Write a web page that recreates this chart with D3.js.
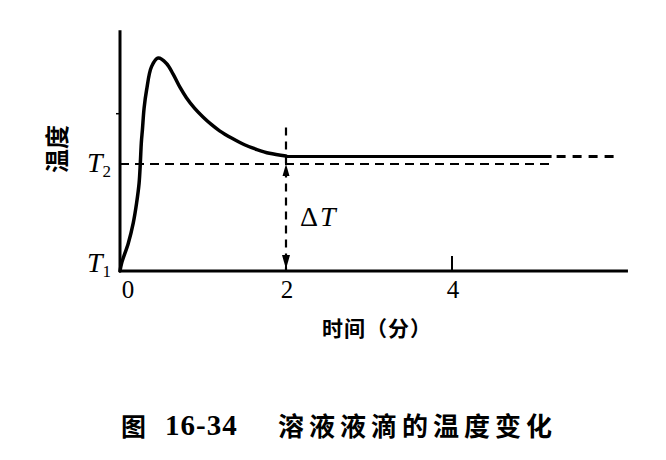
<!DOCTYPE html>
<html><head><meta charset="utf-8">
<script src="https://cdn.jsdelivr.net/npm/d3@7"></script>
<style>
html,body{margin:0;padding:0;background:#fff;}
svg{display:block;}
</style></head>
<body>
<script>
// ---- data ----
const curveT = [0, 0.02, 0.10, 0.16, 0.20, 0.23, 0.245, 0.257, 0.27, 0.29, 0.32, 0.38, 0.46, 0.56, 0.64, 0.72, 0.80, 0.90, 1.0, 1.1, 1.2, 1.35, 1.5, 1.65, 1.8, 2.0];
const curveV = [0, 0.075, 0.26, 0.45, 0.635, 0.82, 1.01, 1.20, 1.32, 1.52, 1.69, 1.91, 1.99, 1.94, 1.84, 1.72, 1.62, 1.52, 1.44, 1.37, 1.31, 1.24, 1.18, 1.135, 1.10, 1.075];
const plateauT = [2.0, 5.2];
const plateauV = 1.07;
const plateauDashT = [5.2, 6.0];
const T2 = 1.0, T1 = 0;
const xTicks = [0, 2, 4];
const xTickLabels = ["0", "2", "4"];
const yTickMark = [1.47];
const eqTime = 2;
const vertTop = 1.34;
const xLabel = "时间（分）";
const yLabel = "温度";
const titleFig = "图";
const titleNum = "16-34";
const titleText = "溶液液滴的温度变化";

const W = 666, H = 460;
const svg = d3.select("body").append("svg").attr("width", W).attr("height", H);
svg.append("rect").attr("width", W).attr("height", H).attr("fill", "#fff");

const x = d3.scaleLinear().domain([0, 6]).range([120, 618]);
const y = d3.scaleLinear().domain([0, 1]).range([271, 164]);

const serif = "'Liberation Serif','DejaVu Serif',serif";
const cjk = "'Noto Sans CJK SC',sans-serif";

// axes
svg.append("line").attr("x1", x(0)).attr("x2", x(0)).attr("y1", y(0) + 1).attr("y2", y(2.25))
  .attr("stroke", "#000").attr("stroke-width", 3);
svg.append("line").attr("x1", x(0) - 1).attr("x2", x(6.12)).attr("y1", y(0)).attr("y2", y(0))
  .attr("stroke", "#000").attr("stroke-width", 3);

// x ticks (upward)
svg.selectAll(".xt").data(xTicks.filter(d => d > 0)).enter().append("line")
  .attr("x1", d => x(d)).attr("x2", d => x(d))
  .attr("y1", y(0)).attr("y2", y(0) - 15)
  .attr("stroke", "#000").attr("stroke-width", 2);
svg.selectAll(".xtl").data(xTicks).enter().append("text")
  .attr("x", (d, i) => x(d) + (i === 0 ? 8 : 1)).attr("y", y(0) + 27)
  .attr("text-anchor", "middle").attr("font-family", serif).attr("font-size", 25)
  .attr("fill", "#000").text((d, i) => xTickLabels[i]);

// small y tick
svg.selectAll(".yt").data(yTickMark).enter().append("line")
  .attr("x1", x(0) - 4).attr("x2", x(0)).attr("y1", d => y(d)).attr("y2", d => y(d))
  .attr("stroke", "#000").attr("stroke-width", 1.5);

// T2 dashed line
svg.append("line").attr("x1", x(0)).attr("x2", x(plateauDashT[0])).attr("y1", y(T2)).attr("y2", y(T2))
  .attr("stroke", "#000").attr("stroke-width", 2.2).attr("stroke-dasharray", "9,6");

// curve
const line = d3.line().x(d => x(d[0])).y(d => y(d[1])).curve(d3.curveCatmullRom.alpha(0.5));
svg.append("path").datum(curveT.map((t, i) => [t, curveV[i]]))
  .attr("d", line).attr("fill", "none").attr("stroke", "#000").attr("stroke-width", 3.5)
  .attr("stroke-linejoin", "round").attr("stroke-linecap", "round");

// plateau
svg.append("line").attr("x1", x(plateauT[0])).attr("x2", x(plateauT[1]))
  .attr("y1", y(plateauV)).attr("y2", y(plateauV)).attr("stroke", "#000").attr("stroke-width", 3);
svg.append("line").attr("x1", x(plateauDashT[0])).attr("x2", x(plateauDashT[1]))
  .attr("y1", y(plateauV)).attr("y2", y(plateauV)).attr("stroke", "#000").attr("stroke-width", 3)
  .attr("stroke-dasharray", "9,7").attr("stroke-dashoffset", -5);

// vertical dashed line with arrows
svg.append("line").attr("x1", x(eqTime)).attr("x2", x(eqTime)).attr("y1", y(vertTop)).attr("y2", y(0))
  .attr("stroke", "#000").attr("stroke-width", 2.2).attr("stroke-dasharray", "8,6");
const ax = x(eqTime);
svg.append("path").attr("d", `M${ax},${y(T2)} L${ax - 3.5},${y(T2) + 12} L${ax + 3.5},${y(T2) + 12} Z`).attr("fill", "#000");
svg.append("path").attr("d", `M${ax},${y(T1) - 2} L${ax - 4},${y(T1) - 16} L${ax + 4},${y(T1) - 16} Z`).attr("fill", "#000");

// ΔT label
const dt = svg.append("text").attr("x", ax + 14).attr("y", y(0.42)).attr("font-family", serif)
  .attr("font-size", 28).attr("fill", "#000");
dt.append("tspan").text("Δ");
dt.append("tspan").attr("font-style", "italic").attr("dx", 2).text("T");

// T2 / T1 labels
function tLabel(v, sub, dy) {
  const t = svg.append("text").attr("x", x(0) - 33).attr("y", y(v) + dy)
    .attr("font-family", serif).attr("font-size", 28).attr("fill", "#000");
  t.append("tspan").attr("font-style", "italic").text("T");
  t.append("tspan").attr("font-size", 17).attr("dy", 5).text(sub);
}
tLabel(T2, "2", 8);
tLabel(T1, "1", 1);

// y label (rotated)
svg.append("text").attr("transform", `translate(${x(0) - 65},${y(T2) - 15}) rotate(-90)`)
  .attr("text-anchor", "middle").attr("dominant-baseline", "central")
  .attr("font-family", cjk).attr("font-size", 24).attr("font-weight", 700).attr("fill", "#000")
  .text(yLabel);

// x label
svg.append("text").attr("x", 377).attr("y", 336).attr("text-anchor", "middle")
  .attr("font-family", cjk).attr("font-size", 21).attr("font-weight", 700).attr("letter-spacing", 1)
  .attr("fill", "#000").text(xLabel);

// title
const ty = 436;
svg.append("text").attr("x", 121).attr("y", ty).attr("font-family", cjk).attr("font-size", 25)
  .attr("font-weight", 700).attr("fill", "#000").text(titleFig);
svg.append("text").attr("x", 165).attr("y", ty - 1).attr("font-family", serif).attr("font-size", 29)
  .attr("font-weight", 700).attr("letter-spacing", 1).attr("fill", "#000").text(titleNum);
svg.append("text").attr("x", 278).attr("y", ty).attr("font-family", cjk).attr("font-size", 26)
  .attr("font-weight", 700).attr("letter-spacing", 5).attr("fill", "#000").text(titleText);
</script>
</body></html>
